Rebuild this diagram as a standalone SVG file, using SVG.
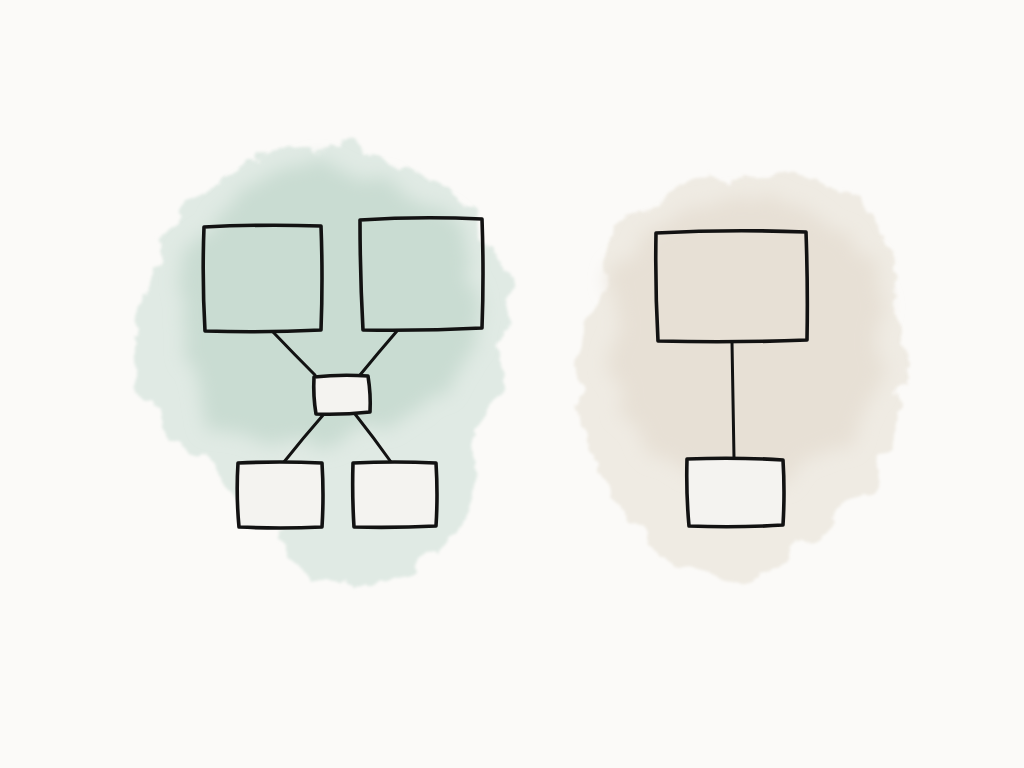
<svg xmlns="http://www.w3.org/2000/svg" width="1024" height="768" viewBox="0 0 1024 768">
<style>
.box{fill:none;stroke:#121212;stroke-width:3.6;stroke-linejoin:round;stroke-linecap:round}
.small{fill:#f4f3f0}
.edge{fill:none;stroke:#121212;stroke-width:3;stroke-linecap:round}
</style>
<defs>
<filter id="wc" x="-20%" y="-20%" width="140%" height="140%">
<feTurbulence type="fractalNoise" baseFrequency="0.03" numOctaves="5" seed="3" result="n"/>
<feDisplacementMap in="SourceGraphic" in2="n" scale="32" xChannelSelector="R" yChannelSelector="G" result="d"/>
<feGaussianBlur in="d" stdDeviation="1.8"/>
</filter>
<filter id="wc2" x="-20%" y="-20%" width="140%" height="140%">
<feTurbulence type="fractalNoise" baseFrequency="0.02" numOctaves="3" seed="7" result="n"/>
<feDisplacementMap in="SourceGraphic" in2="n" scale="40" xChannelSelector="R" yChannelSelector="G" result="d"/>
<feGaussianBlur in="d" stdDeviation="9"/>
</filter>
</defs>
<rect width="1024" height="768" fill="#fbfaf8"/>
<g id="wash-green">
<path filter="url(#wc)" fill="#e0eae4" d="M300,150 C340,140 380,150 400,172 C440,180 470,200 482,230 C505,260 514,300 502,340 C507,380 492,420 477,440 C482,480 472,520 442,540 C422,570 382,592 340,582 C300,577 280,552 268,522 C238,502 218,472 198,452 C158,442 138,402 135,362 C135,322 150,292 160,262 C160,222 190,192 220,177 C250,162 275,155 300,150 Z"/>
<path filter="url(#wc2)" fill="#c9dcd2" d="M300,170 C350,165 390,178 420,202 C460,212 478,242 476,282 C482,322 468,362 448,382 C428,418 380,428 340,436 C300,450 252,446 218,418 C190,398 180,360 184,322 C180,282 190,242 208,218 C232,190 266,175 300,170 Z"/>
</g>
<g id="wash-beige">
<path filter="url(#wc)" fill="#efebe3" d="M720,177 C770,170 820,174 845,197 C880,212 900,252 895,302 C912,342 910,382 895,412 C890,452 880,482 860,497 C840,522 800,542 780,562 C750,582 710,582 690,567 C660,562 640,532 625,507 C600,482 585,442 580,402 C575,362 590,332 600,302 C600,262 610,232 640,212 C670,192 690,182 720,177 Z"/>
<path filter="url(#wc2)" fill="#e7e0d5" d="M725,200 C775,195 820,205 845,230 C872,255 880,300 875,340 C880,380 868,420 850,445 C830,470 790,475 750,478 C710,482 660,470 638,440 C615,410 610,370 615,330 C612,290 625,255 650,230 C675,208 700,202 725,200 Z"/>
</g>
<g id="connectors">
<path class="edge" d="M273,332 Q294,354 315,375"/>
<path class="edge" d="M397,331 Q378,353 360,375"/>
<path class="edge" d="M324,414 Q303,438 284,462"/>
<path class="edge" d="M355,414 Q374,438 391,462"/>
<path class="edge" d="M732,342 Q733,400 734,458"/>
</g>
<g id="node-a"><path class="box" d="M204,227 Q262,224 321,226 Q323,278 321,330 Q262,333 205,331 Q202,279 204,227 Z"/></g>
<g id="node-b"><path class="box" d="M360,220 Q420,216 482,219 Q484,274 482,328 Q423,331 363,330 Q360,275 360,220 Z"/></g>
<g id="node-c"><path class="box small" d="M314,377 Q341,374 368,376 Q371,395 370,412 Q342,415 316,414 Q313,396 314,377 Z"/></g>
<g id="node-d"><path class="box small" d="M238,463 Q280,461 322,463 Q324,495 322,527 Q280,529 239,527 Q236,495 238,463 Z"/></g>
<g id="node-e"><path class="box small" d="M353,463 Q395,461 436,463 Q438,495 436,526 Q395,528 354,527 Q352,495 353,463 Z"/></g>
<g id="node-f"><path class="box" d="M656,233 Q731,229 806,232 Q808,287 807,340 Q732,343 658,341 Q655,287 656,233 Z"/></g>
<g id="node-g"><path class="box small" d="M687,459 Q736,457 783,460 Q785,492 783,525 Q736,528 689,526 Q686,493 687,459 Z"/></g>
</svg>
